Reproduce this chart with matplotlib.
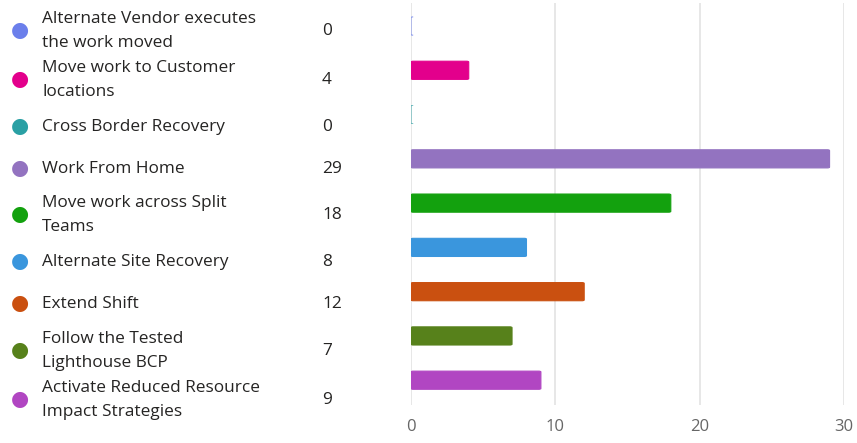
import matplotlib
matplotlib.use("Agg")
import matplotlib.pyplot as plt
from matplotlib.patches import FancyBboxPatch

categories = [
    "Alternate Vendor executes\nthe work moved",
    "Move work to Customer\nlocations",
    "Cross Border Recovery",
    "Work From Home",
    "Move work across Split\nTeams",
    "Alternate Site Recovery",
    "Extend Shift",
    "Follow the Tested\nLighthouse BCP",
    "Activate Reduced Resource\nImpact Strategies",
]
values = [0, 4, 0, 29, 18, 8, 12, 7, 9]
colors = ["#6B7FEB", "#E3008C", "#2AA0A4", "#9373C0", "#13A10E",
          "#3A96DD", "#CA5010", "#57811B", "#B146C2"]
xticks = [0, 10, 20, 30]

W, H = 857, 443
plt.rcParams['font.family'] = ['Open Sans', 'DejaVu Sans']
fig = plt.figure(figsize=(W / 100, H / 100), dpi=100)

# axes geometry in pixels
ax_left, ax_right = 411, 844
ax_top, ax_bottom = 3, 405
ax = fig.add_axes([ax_left / W, 1 - ax_bottom / H,
                   (ax_right - ax_left) / W, (ax_bottom - ax_top) / H])

bar_h = 0.41
for i, (v, c) in enumerate(zip(values, colors)):
    p = FancyBboxPatch((0, i - bar_h / 2), v, bar_h,
                       boxstyle="round,pad=0,rounding_size=0.15",
                       mutation_aspect=1 / 8.0,
                       facecolor=c, edgecolor=c,
                       linewidth=0.8 if v else 0.5, alpha=1 if v else 0.6,
                       zorder=3)
    ax.add_patch(p)

ax.set_xlim(0, 30)
ax.set_ylim(8.56, -0.52)
ax.set_xticks(xticks)
ax.set_yticks([])
ax.grid(axis='x', color='#e3e3e3', linewidth=1.2, zorder=0)
for s in ax.spines.values():
    s.set_visible(False)
ax.tick_params(axis='x', length=0, pad=10, labelsize=12, labelcolor='#666666')

# legend rows (layout positions in pixels)
legend_y = [29, 78, 125, 167, 213, 260, 302, 349, 398]
for y, cat, v, c in zip(legend_y, categories, values, colors):
    fy = 1 - (y + 2) / H
    fig.text(20 / W, 1 - (y + 1) / H, "\u25CF", color=c, fontsize=15, ha='center',
             va='center', family=['DejaVu Sans'])
    fig.text(42 / W, fy, cat, color='#252423', fontsize=12.4, ha='left', va='center',
             linespacing=1.6)
    fig.text(322 / W, fy, str(v), color='#252423', fontsize=12.4, ha='left', va='center')

fig.savefig("out.png", dpi=100, facecolor='white')
